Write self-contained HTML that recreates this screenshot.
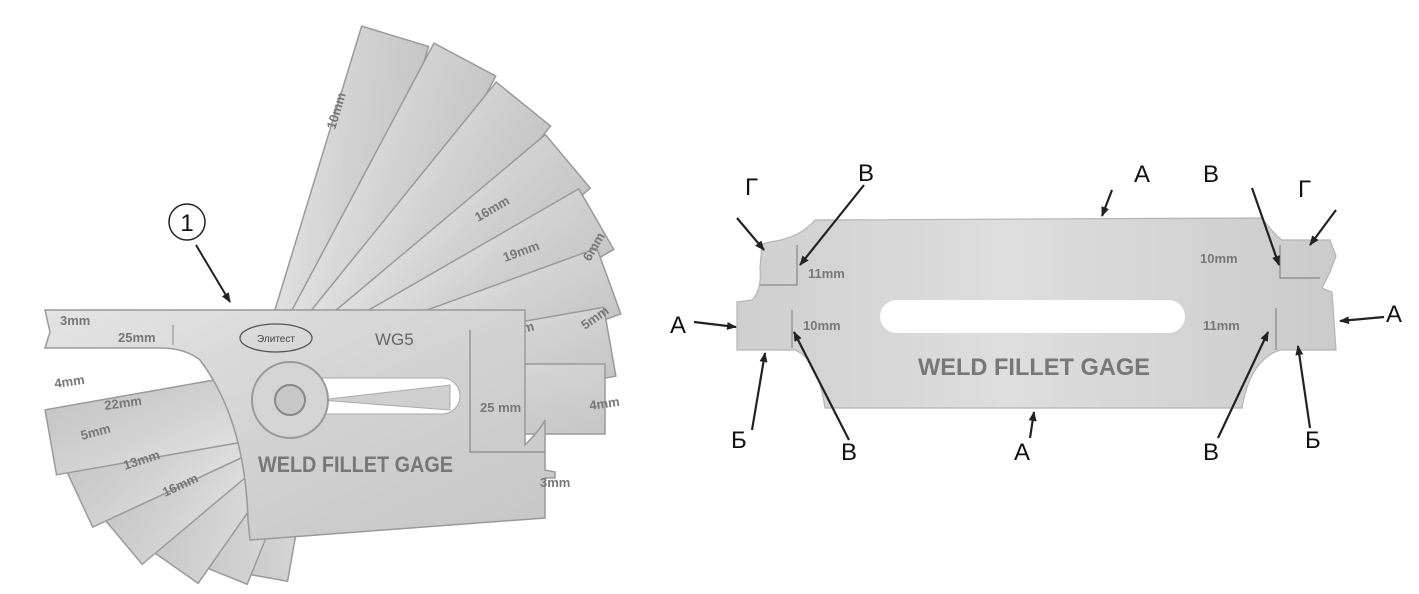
<!DOCTYPE html>
<html><head><meta charset="utf-8"><style>
html,body{margin:0;padding:0;background:#fff;overflow:hidden;}
svg{display:block}
text{font-family:"Liberation Sans",sans-serif;}
</style></head><body>
<svg width="1419" height="594" viewBox="0 0 1419 594" xmlns="http://www.w3.org/2000/svg">
<defs>
<linearGradient id="m" x1="0" y1="0" x2="1" y2="1">
<stop offset="0" stop-color="#e4e4e4"/><stop offset="0.5" stop-color="#d2d2d2"/><stop offset="1" stop-color="#c6c6c6"/>
</linearGradient>
<linearGradient id="p" x1="0" y1="0" x2="1" y2="0">
<stop offset="0" stop-color="#cfcfcf"/><stop offset="0.45" stop-color="#dedede"/><stop offset="1" stop-color="#cbcbcb"/>
</linearGradient>
<marker id="ah" markerWidth="10" markerHeight="10" refX="9" refY="5" orient="auto" markerUnits="userSpaceOnUse">
<path d="M0,1 L10,5 L0,9 z" fill="#222"/></marker>
</defs>

<g fill="url(#m)" stroke="#9a9a9a" stroke-width="1.5">
<g transform="translate(285,400)">
<rect x="0" y="-34" width="178" height="66" transform="rotate(100)"/>
<rect x="0" y="-34" width="185" height="66" transform="rotate(112)"/>
<rect x="0" y="-34" width="200" height="66" transform="rotate(125)"/>
<rect x="0" y="-34" width="215" height="66" transform="rotate(140)"/>
<rect x="0" y="-34" width="228" height="66" transform="rotate(155)"/>
<rect x="0" y="-34" width="238" height="66" transform="rotate(170)"/>
<rect x="0" y="-36" width="380" height="70" transform="rotate(-73)"/>
<rect x="0" y="-36" width="385" height="70" transform="rotate(-62)"/>
<rect x="0" y="-36" width="380" height="70" transform="rotate(-51)"/>
<rect x="0" y="-36" width="370" height="70" transform="rotate(-40)"/>
<rect x="0" y="-36" width="360" height="70" transform="rotate(-30)"/>
<rect x="0" y="-36" width="345" height="70" transform="rotate(-20)"/>
<rect x="0" y="-36" width="330" height="70" transform="rotate(-10)"/>
<rect x="0" y="-36" width="320" height="70" transform="rotate(0)"/>
</g>
</g>
<g font-weight="bold" font-size="13" fill="#777">
<text transform="translate(335,130) rotate(-73)">10mm</text>
<text transform="translate(478,222) rotate(-30)">16mm</text>
<text transform="translate(505,262) rotate(-20)">19mm</text>
<text transform="translate(590,262) rotate(-60)">6mm</text>
<text transform="translate(498,338) rotate(-12)">22mm</text>
<text transform="translate(585,330) rotate(-35)">5mm</text>
<text transform="translate(590,410) rotate(-8)">4mm</text>
<text transform="translate(55,388) rotate(-8)">4mm</text>
<text transform="translate(105,410) rotate(-8)">22mm</text>
<text transform="translate(82,440) rotate(-15)">5mm</text>
<text transform="translate(125,470) rotate(-18)">13mm</text>
<text transform="translate(165,497) rotate(-25)">16mm</text>
</g>
<path d="M45,310 L525,310 L525,445 Q540,430 545,420 L545,470 L555,472 L555,478 L545,478 L545,518 L250,540 L248,520 Q245,420 200,360 Q185,348 160,348 L45,348 L50,332 Z" fill="url(#m)" stroke="#9a9a9a" stroke-width="1.5"/>
<path d="M470,330 L470,452 L545,452" fill="none" stroke="#888" stroke-width="1.2"/>
<line x1="173" y1="325" x2="173" y2="345" stroke="#888"/>
<rect x="300" y="378" width="160" height="36" rx="18" fill="#fff" stroke="#aaa"/>
<path d="M320,400 L450,385 L450,410 Z" fill="#cfcfcf" stroke="#aaa"/>
<circle cx="290" cy="400" r="38" fill="#d4d4d4" stroke="#999" stroke-width="2"/>
<circle cx="290" cy="400" r="15" fill="#c8c8c8" stroke="#888" stroke-width="2"/>
<ellipse cx="276" cy="338" rx="36" ry="14" fill="none" stroke="#555" stroke-width="1.3"/>
<text x="276" y="342" text-anchor="middle" font-size="10" fill="#444">Элитест</text>
<text x="375" y="345" font-family="Liberation Serif" font-size="17" fill="#666">WG5</text>
<g font-weight="bold" font-size="13" fill="#777">
<text x="60" y="325">3mm</text>
<text x="118" y="342">25mm</text>
<text x="480" y="412">25 mm</text>
<text x="540" y="487">3mm</text>
</g>
<text x="258" y="472" font-size="22" font-weight="bold" fill="#777" textLength="195" lengthAdjust="spacingAndGlyphs">WELD  FILLET  GAGE</text>
<circle cx="187" cy="222" r="18" fill="#fff" stroke="#222" stroke-width="1.5"/>
<text x="187" y="231" text-anchor="middle" font-size="24" fill="#111">1</text>
<line x1="196" y1="245" x2="230" y2="302" stroke="#222" stroke-width="2" marker-end="url(#ah)"/>

<path d="M815,220 L1262,218 Q1272,232 1282,240 L1330,240 L1336,256 L1330,272 L1322,288 L1332,292 L1336,350 L1280,350 Q1250,360 1242,408 L825,408 Q818,360 795,350 L737,350 L737,302 L752,300 Q762,290 760,268 L762,244 L770,242 Q800,238 815,220 Z" fill="url(#p)" stroke="#b5b5b5" stroke-width="1.2"/>
<rect x="880" y="300" width="305" height="33" rx="16.5" fill="#fff"/>
<g stroke="#777" stroke-width="1" fill="none">
<path d="M797,245 L797,285 L760,285"/>
<path d="M792,310 L792,348"/>
<path d="M1280,245 L1280,278 L1320,278"/>
<path d="M1276,308 L1276,350"/>
</g>
<g font-weight="bold" font-size="13" fill="#777">
<text x="808" y="278">11mm</text>
<text x="803" y="330">10mm</text>
<text x="1200" y="263">10mm</text>
<text x="1203" y="330">11mm</text>
</g>
<text x="918" y="375" font-size="24" font-weight="bold" fill="#777" textLength="232" lengthAdjust="spacingAndGlyphs">WELD  FILLET  GAGE</text>

<g font-size="24" fill="#111">
<text x="858" y="181">В</text>
<text x="1134" y="182">А</text>
<text x="745" y="195">Г</text>
<text x="1203" y="182">В</text>
<text x="1298" y="197">Г</text>
<text x="670" y="333">А</text>
<text x="1386" y="322">А</text>
<text x="731" y="448">Б</text>
<text x="841" y="460">В</text>
<text x="1014" y="460">А</text>
<text x="1203" y="460">В</text>
<text x="1305" y="448">Б</text>
</g>
<g stroke="#222" stroke-width="2.2" marker-end="url(#ah)">
<line x1="864" y1="185" x2="800" y2="265"/>
<line x1="1112" y1="190" x2="1102" y2="216"/>
<line x1="737" y1="218" x2="764" y2="250"/>
<line x1="1252" y1="188" x2="1279" y2="265"/>
<line x1="1336" y1="210" x2="1310" y2="245"/>
<line x1="694" y1="322" x2="736" y2="327"/>
<line x1="1384" y1="317" x2="1340" y2="321"/>
<line x1="752" y1="430" x2="765" y2="353"/>
<line x1="849" y1="440" x2="794" y2="332"/>
<line x1="1030" y1="438" x2="1034" y2="412"/>
<line x1="1218" y1="438" x2="1268" y2="332"/>
<line x1="1310" y1="428" x2="1298" y2="346"/>
</g>
</svg>
</body></html>
